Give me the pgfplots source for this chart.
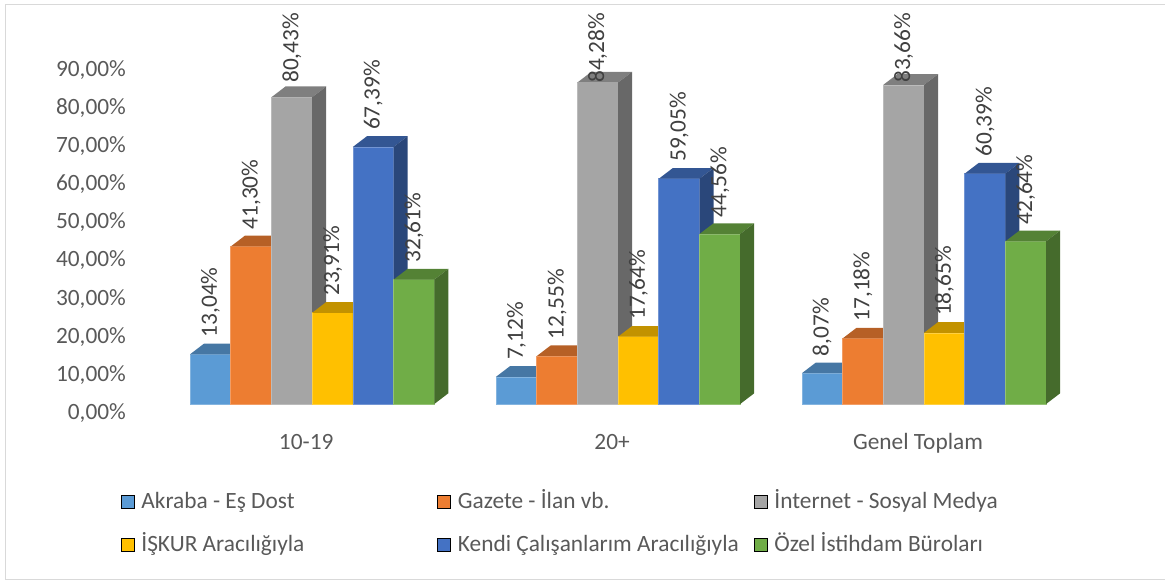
\documentclass[border=0pt]{standalone}
\usepackage{pgfplots}
\pgfplotsset{compat=1.18}
\usepackage{pgfplotstable}
\usepackage{fontspec}
\setmainfont{Carlito}
\definecolor{c1}{HTML}{5B9BD5}
\definecolor{c2}{HTML}{ED7D31}
\definecolor{c3}{HTML}{A5A5A5}
\definecolor{c4}{HTML}{FFC000}
\definecolor{c5}{HTML}{4472C4}
\definecolor{c6}{HTML}{70AD47}
\colorlet{c1top}{c1!77!black}\colorlet{c1side}{c1!62!black}
\colorlet{c2top}{c2!77!black}\colorlet{c2side}{c2!62!black}
\colorlet{c3top}{c3!77!black}\colorlet{c3side}{c3!63!black}
\colorlet{c4top}{c4!76!black}\colorlet{c4side}{c4!62!black}
\colorlet{c5top}{c5!75!black}\colorlet{c5side}{c5!62!black}
\colorlet{c6top}{c6!75!black}\colorlet{c6side}{c6!62!black}
\colorlet{c1edge}{c1!75!white}\colorlet{c2edge}{c2!75!white}
\colorlet{c3edge}{c3!75!white}\colorlet{c4edge}{c4!75!white}
\colorlet{c5edge}{c5!75!white}\colorlet{c6edge}{c6!75!white}
\definecolor{tickc}{HTML}{595959}
\definecolor{lblc}{HTML}{404040}
\definecolor{bordc}{HTML}{D9D9D9}

\pgfplotstableread{
g s1 s2 s3 s4 s5 s6
0 13.04 41.30 80.43 23.91 67.39 32.61
1 7.12 12.55 84.28 17.64 59.05 44.56
2 8.07 17.18 83.66 18.65 60.39 42.64
}\data

\def\bw{0.13305}
\def\dxx{0.04577}
\def\dyy{2.805}

\newcommand\tdbar[3]{%
  \pgfmathsetmacro\xa{#1+(#2-4)*\bw}%
  \pgfmathsetmacro\xb{\xa+\bw}%
  \pgfmathsetmacro\xc{\xb+\dxx}%
  \pgfmathsetmacro\xd{\xa+\dxx}%
  \pgfmathsetmacro\yt{#3+\dyy}%
  \edef\tmp{%
    \noexpand\addplot[forget plot, fill=c#2, draw=c#2edge, line width=0.5pt] coordinates {(\xa,0) (\xb,0) (\xb,#3) (\xa,#3)} -- cycle;
    \noexpand\addplot[forget plot, fill=c#2top, draw=none] coordinates {(\xa,#3) (\xb,#3) (\xc,\yt) (\xd,\yt)} -- cycle;
    \noexpand\addplot[forget plot, fill=c#2side, draw=none] coordinates {(\xb,0) (\xc,\dyy) (\xc,\yt) (\xb,#3)} -- cycle;
  }\tmp}

\pgfplotsset{
  lbl/.style={
    nodes near coords={\pgfmathprintnumber[fixed,fixed zerofill,precision=2,use comma]{\pgfplotspointmeta}\%},
    every node near coord/.append style={rotate=90, anchor=west, inner sep=0pt,
      font=\fontsize{17.5}{21}\selectfont, text=lblc},
  },
  sq/.style={legend image code/.code={\fill[##1] (0pt,0pt) rectangle (9.75pt,9.75pt);}},
}

\begin{document}
\begin{tikzpicture}
\useasboundingbox (0,0) rectangle (873.75pt,435.75pt);
\draw[bordc, line width=0.75pt] (3.75pt,1.3pt) rectangle (880pt,432.2pt);
\begin{axis}[
  at={(234.15pt,132.75pt)}, anchor=origin,
  x=229.425pt, y=2.861pt,
  xmin=-0.579, xmax=2.6, ymin=0, ymax=90,
  clip=false,
  axis line style={draw=none},
  tick style={draw=none},
  /pgf/number format/assume math mode=true,
  font=\fontsize{17.5}{21}\selectfont,
  ytick={0,10,...,90},
  yticklabel={\pgfmathprintnumber[fixed,fixed zerofill,precision=2,use comma]{\tick}\%},
  yticklabel style={anchor=east, inner sep=0pt, xshift=-6.75pt, yshift=-6.75pt, text=tickc},
  xtick={0,1,2},
  xticklabels={10-19,20+,Genel Toplam},
  xticklabel style={anchor=base, inner sep=0pt, yshift=-34.5pt, xshift=-4.5pt, text=tickc},
  legend columns=3,
  legend style={at={(-0.01491,-0.2485)}, anchor=north west, draw=none, fill=none,
    inner sep=0pt, row sep=14.25pt, text=tickc,
    font=\fontsize{17.5}{21}\selectfont,
    nodes={inner sep=0pt, text height=14pt, text depth=4pt},
    cells={anchor=base west},
    /tikz/every odd column/.append style={column sep=5.25pt}},
]
\pgfplotsforeachungrouped \g in {0,1,2}{%
  \pgfplotsforeachungrouped \s in {1,...,6}{%
    \pgfplotstablegetelem{\g}{s\s}\of\data
    \let\v\pgfplotsretval
    \tdbar{\g}{\s}{\v}%
  }%
}
\pgfplotsinvokeforeach{1,...,6}{%
  \addplot[forget plot, draw=none, mark=none, point meta=explicit, lbl]
    table[x expr={\thisrow{g}+(#1-3.5)*\bw}, y expr={min(\thisrow{s#1}+4.38,84.14)}, meta=s#1] {\data};
}
\addlegendimage{sq, fill=c1}\addlegendentry{\makebox[222pt][l]{Akraba - Eş Dost}}
\addlegendimage{sq, fill=c2}\addlegendentry{\makebox[222pt][l]{Gazete - İlan vb.}}
\addlegendimage{sq, fill=c3}\addlegendentry{\makebox[222pt][l]{İnternet - Sosyal Medya}}
\addlegendimage{sq, fill=c4}\addlegendentry{\makebox[222pt][l]{İŞKUR Aracılığıyla}}
\addlegendimage{sq, fill=c5}\addlegendentry{\makebox[222pt][l]{Kendi Çalışanlarım Aracılığıyla}}
\addlegendimage{sq, fill=c6}\addlegendentry{\makebox[222pt][l]{Özel İstihdam Büroları}}
\end{axis}
\end{tikzpicture}
\end{document}
